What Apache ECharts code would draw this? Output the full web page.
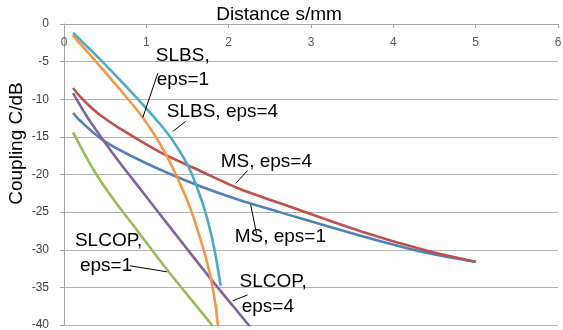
<!DOCTYPE html>
<html>
<head><meta charset="utf-8"></head>
<script type="text/javascript" src="https://cdn.jsdelivr.net/npm/echarts@6/dist/echarts.min.js"></script>
<body style="margin:0;background-color:white;">
    <div id="main" style="width:563px;height:330px;"></div>
</body>
<script>
// values: [distance s/mm, coupling dB]
var msEps1 = [[0.11,-11.8],[0.19,-12.8],[0.48,-15.5],[0.96,-18.3],[1.57,-21.2],[2.13,-23.4],[2.62,-25.0],[3.59,-28.1],[4.40,-30.4],[5.0,-31.6]]
var msEps4 = [[0.11,-8.5],[0.2,-9.7],[0.3,-10.8],[0.45,-12.2],[0.68,-13.9],[1.16,-17.0],[1.65,-19.5],[2.13,-21.9],[2.62,-23.8],[3.59,-27.5],[4.40,-30.1],[5.0,-31.6]]
var slcopEps1 = [[0.11,-14.4],[0.36,-19.4],[0.6,-23.3],[0.88,-27.3],[1.24,-32.5],[1.81,-40.2],[1.84,-40.8]]
var slcopEps4 = [[0.11,-9.2],[0.29,-12.5],[0.6,-17.3],[0.96,-22.4],[1.28,-26.9],[1.77,-33.7],[2.25,-40.1],[2.3,-40.8]]
var slbsEps4 = [[0.11,-1.16],[0.436,-4.67],[0.739,-8.13],[0.958,-10.73],[1.127,-12.8],[1.285,-14.93],[1.491,-18.53],[1.612,-21.6],[1.733,-25.6],[1.83,-30.13],[1.903,-34.8]]
var slbsEps1 = [[0.105,-1.47],[0.436,-5.6],[0.739,-9.47],[0.945,-12.27],[1.103,-14.8],[1.224,-17.07],[1.37,-20.27],[1.527,-24.27],[1.648,-28.27],[1.733,-31.47],[1.794,-34.4],[1.842,-37.47],[1.873,-40.4]]

var xTicks = [0, 1, 2, 3, 4, 5, 6]
var yTicks = [0, -5, -10, -15, -20, -25, -30, -35, -40]

// curve labels, anchored in data coordinates (left, middle of the line)
var notes = [
    {text:'SLBS,', at:[1.115,-4.27]},
    {text:'eps=1', at:[1.127,-7.47]},
    {text:'SLBS, eps=4', at:[1.248,-11.6]},
    {text:'MS, eps=4', at:[1.903,-18.27]},
    {text:'MS, eps=1', at:[2.073,-28.27]},
    {text:'SLCOP,', at:[0.133,-28.8]},
    {text:'eps=1', at:[0.194,-32.13]},
    {text:'SLCOP,', at:[2.133,-34.27]},
    {text:'eps=4', at:[2.158,-37.6]}
]
var leaders = [
    [[1.14,-6.53],[0.958,-12.4]],
    [[1.479,-12.93],[1.321,-14.27]],
    [[2.230,-19.47],[2.085,-21.2]],
    [[2.267,-24.0],[2.339,-27.87]],
    [[0.8,-32.13],[1.248,-32.93]],
    [[2.048,-36.8],[2.230,-36.0]]
]

var lines = [
    {name:'MS, eps=1', data:msEps1, color:'#4F81BD'},
    {name:'MS, eps=4', data:msEps4, color:'#C0504D'},
    {name:'SLCOP, eps=1', data:slcopEps1, color:'#9BBB59'},
    {name:'SLCOP, eps=4', data:slcopEps4, color:'#8064A2'},
    {name:'SLBS, eps=4', data:slbsEps4, color:'#4BACC6'},
    {name:'SLBS, eps=1', data:slbsEps1, color:'#F79646'}
]

var myChart = echarts.init(document.getElementById('main'));

var option = {
    animation: false,
    grid: {left: 64, right: 5, top: 24, bottom: 5, outerBoundsMode: 'none'},
    xAxis: {
        type: 'value',
        position: 'top',
        min: xTicks[0], max: xTicks[xTicks.length-1], interval: 1,
        name: 'Distance s/mm',
        nameLocation: 'middle',
        nameGap: 0,
        nameMoveOverlap: false,
        nameTextStyle: {fontFamily: 'Liberation Sans', fontSize: 19, color: '#000', padding: [0, 64, 0, 0], verticalAlign: 'bottom'},
        axisLine: {lineStyle: {color: '#A6A6A6'}},
        axisTick: {inside: true, length: 4, lineStyle: {color: '#A6A6A6'}},
        axisLabel: {inside: true, margin: 13, fontSize: 12, color: '#595959'},
        splitLine: {show: false}
    },
    yAxis: {
        type: 'value',
        min: yTicks[yTicks.length-1], max: yTicks[0], interval: 5,
        name: 'Coupling C/dB',
        nameLocation: 'middle',
        nameGap: 38,
        nameMoveOverlap: false,
        nameTextStyle: {fontFamily: 'Liberation Sans', fontSize: 19, color: '#000', padding: [0, 0, 0, 62]},
        axisLine: {show: true, lineStyle: {color: '#A6A6A6'}},
        axisTick: {show: true, length: 4, lineStyle: {color: '#A6A6A6'}},
        axisLabel: {margin: 15, fontSize: 12, color: '#404040'},
        splitLine: {lineStyle: {color: '#B3B3B3'}}
    },
    series: lines.map(function(s){
        return {
            name: s.name,
            type: 'line',
            data: s.data,
            smooth: 0.3,
            showSymbol: false,
            lineStyle: {width: 2.6, color: s.color},
            itemStyle: {color: s.color}
        }
    })
}

myChart.setOption(option);

var graphics = []
notes.forEach(function(n){
    var p = myChart.convertToPixel({gridIndex: 0}, n.at)
    graphics.push({
        type: 'text', x: p[0], y: p[1], z: 100,
        style: {text: n.text, fill: '#000', font: '19px "Liberation Sans"', verticalAlign: 'middle', align: 'left'}
    })
})
leaders.forEach(function(l){
    var a = myChart.convertToPixel({gridIndex: 0}, l[0])
    var b = myChart.convertToPixel({gridIndex: 0}, l[1])
    graphics.push({
        type: 'line', z: 100,
        shape: {x1: a[0], y1: a[1], x2: b[0], y2: b[1]},
        style: {stroke: '#000', lineWidth: 1}
    })
})
myChart.setOption({graphic: graphics});
</script>
</html>
